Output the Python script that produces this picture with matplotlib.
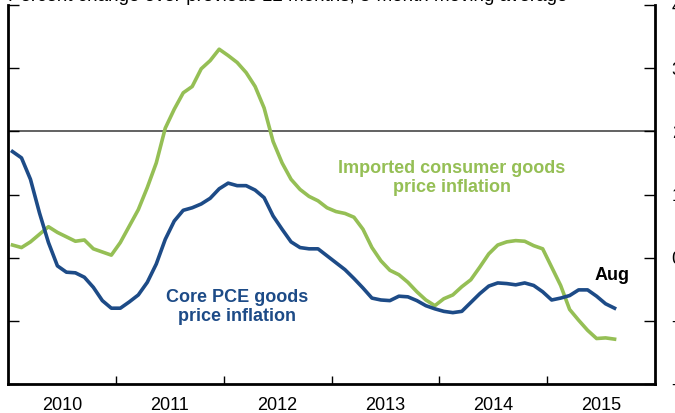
import matplotlib
matplotlib.use("Agg")
import matplotlib.pyplot as plt
import numpy as np
import pandas as pd

plt.rcParams["font.family"] = ["Liberation Sans", "DejaVu Sans"]

# monthly, Jan 2010 - Aug 2015
MONTHS = pd.date_range("2010-01-01", "2015-08-01", freq="MS")

CORE_PCE_GOODS = [
    1.68, 1.58, 1.24, 0.71, 0.24, -0.13, -0.23, -0.24, -0.31, -0.47, -0.68, -0.80,
    -0.80, -0.70, -0.59, -0.39, -0.10, 0.29, 0.58, 0.75, 0.79, 0.85, 0.94, 1.09,
    1.18, 1.14, 1.14, 1.07, 0.95, 0.66, 0.45, 0.25, 0.16, 0.14, 0.14, 0.03,
    -0.08, -0.19, -0.33, -0.48, -0.64, -0.67, -0.68, -0.61, -0.62, -0.68, -0.76, -0.81,
    -0.85, -0.87, -0.85, -0.71, -0.57, -0.45, -0.40, -0.41, -0.43, -0.40, -0.44, -0.54,
    -0.67, -0.64, -0.60, -0.51, -0.51, -0.61, -0.73, -0.80,
]

IMPORTED_GOODS = [
    0.20, 0.16, 0.25, 0.37, 0.49, 0.40, 0.33, 0.26, 0.28, 0.14, 0.09, 0.04,
    0.24, 0.50, 0.76, 1.11, 1.50, 2.05, 2.35, 2.61, 2.71, 2.99, 3.12, 3.30,
    3.20, 3.09, 2.93, 2.71, 2.37, 1.84, 1.50, 1.24, 1.08, 0.97, 0.90, 0.79,
    0.73, 0.70, 0.64, 0.45, 0.16, -0.05, -0.20, -0.27, -0.39, -0.54, -0.67, -0.76,
    -0.65, -0.59, -0.46, -0.35, -0.15, 0.06, 0.20, 0.25, 0.27, 0.26, 0.19, 0.14,
    -0.15, -0.44, -0.82, -0.99, -1.15, -1.28, -1.27, -1.29,
]

YEARS = [2010, 2011, 2012, 2013, 2014, 2015]
Y_TICKS = [-2, -1, 0, 1, 2, 3, 4]

BLUE = "#1d4b87"
GREEN = "#95bf55"

# mid-month positions in decimal years
x = MONTHS.year + (MONTHS.month - 0.5) / 12

fig = plt.figure(figsize=(6.75, 4.13), dpi=100)
ax = fig.add_axes([8 / 675, 1 - 384 / 413, 647 / 675, 379 / 413])

ax.axhline(2, color="#555555", linewidth=1.3, zorder=1)
ax.plot(x, IMPORTED_GOODS, color=GREEN, linewidth=2.6, zorder=2)
ax.plot(x, CORE_PCE_GOODS, color=BLUE, linewidth=2.6, zorder=3)

ax.set_xlim(2010, 2016)
ax.set_ylim(-2, 4)

ax.set_xticks([y + 1 for y in YEARS[:-1]])
ax.set_xticklabels([])
ax.set_xticks([y + 0.5 for y in YEARS], minor=True)
ax.set_xticklabels([str(y) for y in YEARS], minor=True, fontsize=13)
ax.tick_params(axis="x", which="major", direction="in", length=6, width=1)
ax.tick_params(axis="x", which="minor", length=0, pad=9)

ax.set_yticks(Y_TICKS)
ax.set_yticklabels([str(v) for v in Y_TICKS], fontsize=13)
ax.tick_params(axis="y", direction="in", length=8, width=1,
               left=True, right=True, labelleft=False, labelright=True, pad=12)

ax.spines["top"].set_visible(False)
for s in ["left", "bottom", "right"]:
    ax.spines[s].set_linewidth(2)

fig.text(452 / 675, 1 - 178 / 413, "Imported consumer goods\nprice inflation",
         ha="center", va="center", fontsize=13, fontweight="bold", color=GREEN,
         linespacing=1.15)
fig.text(237 / 675, 1 - 307 / 413, "Core PCE goods\nprice inflation",
         ha="center", va="center", fontsize=13, fontweight="bold", color=BLUE,
         linespacing=1.15)
fig.text(612 / 675, 1 - 276 / 413, "Aug", ha="center", va="center",
         fontsize=13, fontweight="bold", color="black")

fig.text(8 / 675, 1 + 3 / 413, "Percent change over previous 12 months, 3-month moving average",
         ha="left", va="center", fontsize=13.5)

fig.savefig("out.png", dpi=100)
